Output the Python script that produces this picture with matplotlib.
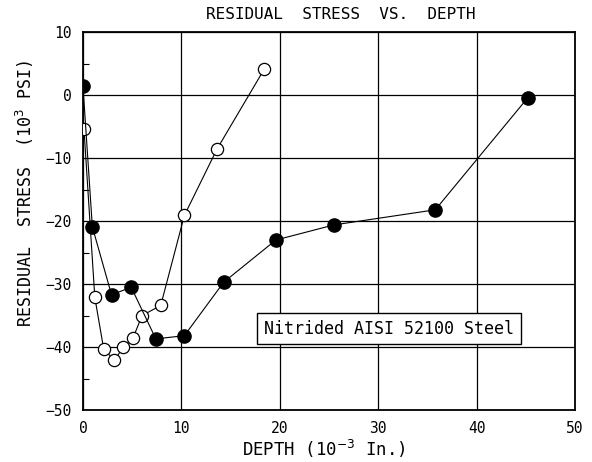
import matplotlib.pyplot as plt
from matplotlib.ticker import MultipleLocator

# -------------------------------
# Data (depth in 10^-3 in., stress in 10^3 psi)
# -------------------------------
depth_filled = [0.0, 0.95, 2.9, 4.9, 7.4, 10.3, 14.3, 19.6, 25.5, 35.8, 45.2]
stress_filled = [1.4, -20.9, -31.7, -30.5, -38.7, -38.2, -29.7, -23.0, -20.6, -18.2, -0.4]

depth_open = [0.1, 1.2, 2.1, 3.2, 4.1, 5.1, 6.0, 7.9, 10.3, 13.6, 18.4]
stress_open = [-5.4, -32.1, -40.3, -42.1, -40.0, -38.5, -35.0, -33.4, -19.1, -8.6, 4.1]

label_text = "Nitrided AISI 52100 Steel"

plt.rcParams['font.family'] = ['DejaVu Sans Mono', 'DejaVu Sans']

fig = plt.figure(figsize=(5.92, 4.62), dpi=100)
ax = fig.add_axes([0.1402, 0.1126, 0.8311, 0.8175])

ax.plot(depth_open, stress_open, color="black", lw=0.8, marker="o",
        markersize=8.8, markerfacecolor="white", markeredgecolor="black",
        markeredgewidth=0.9, zorder=3)
ax.plot(depth_filled, stress_filled, color="black", lw=0.8, marker="o",
        markersize=9.5, markerfacecolor="black", markeredgecolor="black",
        zorder=4)

ax.set_xlim(0, 50)
ax.set_ylim(-50, 10)
ax.xaxis.set_major_locator(MultipleLocator(10))
ax.yaxis.set_major_locator(MultipleLocator(10))
ax.yaxis.set_minor_locator(MultipleLocator(5))
ax.grid(True, which="major", color="black", lw=0.9)
ax.set_axisbelow(True)

ax.tick_params(which="both", direction="in", labelsize=10.5)
ax.tick_params(axis="x", length=0, pad=8)
ax.tick_params(axis="y", which="major", length=0, pad=8)
ax.tick_params(axis="y", which="minor", length=4, width=0.8)
for s in ax.spines.values():
    s.set_linewidth(1.3)

fig.text(0.576, 0.958, "RESIDUAL  STRESS  VS.  DEPTH", ha="center",
         va="baseline", fontsize=11.5)
ax.set_xlabel("DEPTH (10$^{-3}$ In.)", fontsize=12.5)
ax.xaxis.set_label_coords(0.49, -0.075)
ax.set_ylabel("RESIDUAL  STRESS  (10$^{3}$ PSI)", fontsize=12)
ax.yaxis.set_label_coords(-0.095, 0.574)

ax.text(31.1, -37.1, label_text, ha="center", va="center", fontsize=12,
        zorder=5,
        bbox=dict(boxstyle="square,pad=0.4", facecolor="white",
                  edgecolor="black", lw=1))

fig.savefig("out.png", dpi=100)
